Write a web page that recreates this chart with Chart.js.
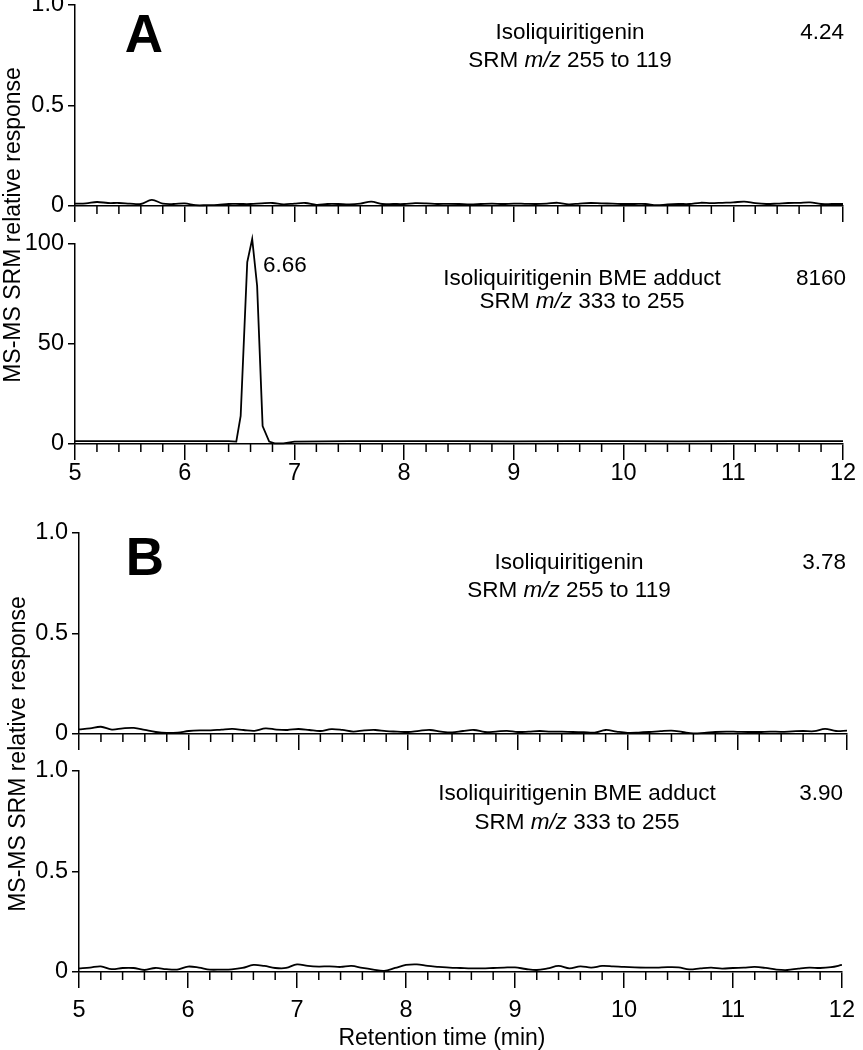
<!DOCTYPE html>
<html><head><meta charset="utf-8">
<script src="https://cdn.jsdelivr.net/npm/chart.js@4.4.1/dist/chart.umd.min.js"></script>
<style>
html,body{margin:0;padding:0;background:#fff;}
#wrap{position:relative;width:863px;height:1050px;overflow:hidden;font-family:"Liberation Sans",Arial,sans-serif;color:#000;}
canvas{position:absolute;left:0;}
.t{position:absolute;white-space:nowrap;line-height:1;font-size:22.5px;transform:translate(-50%,-50%);}
.r{position:absolute;white-space:nowrap;line-height:1;font-size:22.5px;transform:translate(-100%,-50%);}
.l{position:absolute;white-space:nowrap;line-height:1;font-size:22.5px;transform:translate(0,-50%);}
.big{position:absolute;font-weight:bold;font-size:53px;line-height:1;transform:translate(-50%,-50%);}
.yt{position:absolute;white-space:nowrap;line-height:1;font-size:23px;transform:translate(-50%,-50%) rotate(-90deg);}
.xt{position:absolute;white-space:nowrap;line-height:1;font-size:23px;transform:translate(-50%,-50%);}
</style></head><body><div id="wrap">
<canvas id="cA1"></canvas>
<canvas id="cA2"></canvas>
<canvas id="cB1"></canvas>
<canvas id="cB2"></canvas>

<div class="big" style="left:144px;top:33px;">A</div>
<div class="big" style="left:145px;top:556px;">B</div>

<div class="yt" style="left:12px;top:225px;">MS-MS SRM relative response</div>
<div class="yt" style="left:17px;top:754px;">MS-MS SRM relative response</div>

<div class="t" style="left:570px;top:32px;">Isoliquiritigenin</div>
<div class="t" style="left:570px;top:60px;">SRM <i>m/z</i> 255 to 119</div>
<div class="r" style="left:844px;top:32px;">4.24</div>

<div class="t" style="left:582px;top:278px;">Isoliquiritigenin BME adduct</div>
<div class="t" style="left:582px;top:301px;">SRM <i>m/z</i> 333 to 255</div>
<div class="r" style="left:846px;top:278px;">8160</div>
<div class="l" style="left:263px;top:265px;">6.66</div>

<div class="t" style="left:569px;top:562px;">Isoliquiritigenin</div>
<div class="t" style="left:569px;top:590px;">SRM <i>m/z</i> 255 to 119</div>
<div class="r" style="left:846px;top:562px;">3.78</div>

<div class="t" style="left:577px;top:793px;">Isoliquiritigenin BME adduct</div>
<div class="t" style="left:577px;top:822px;">SRM <i>m/z</i> 333 to 255</div>
<div class="r" style="left:843px;top:793px;">3.90</div>

<div class="xt" style="left:442px;top:1037px;">Retention time (min)</div>
</div>
<script>
// ---------- data ----------
const xTickLabels = ["5","6","7","8","9","10","11","12"];
const yTickValsUnit = [0, 0.5, 1.0];
const yTickLabelsUnit = ["0","0.5","1.0"];
const yTickValsPct = [0, 50, 100];
const yTickLabelsPct = ["0","50","100"];

const timeNoise = [5.0,5.1,5.2,5.3,5.4,5.5,5.6,5.7,5.8,5.9,6.0,6.1,6.2,6.3,6.4,6.5,6.6,6.7,6.8,6.9,
  7.0,7.1,7.2,7.3,7.4,7.5,7.6,7.7,7.8,7.9,8.0,8.1,8.2,8.3,8.4,8.5,8.6,8.7,8.8,8.9,
  9.0,9.1,9.2,9.3,9.4,9.5,9.6,9.7,9.8,9.9,10.0,10.1,10.2,10.3,10.4,10.5,10.6,10.7,10.8,10.9,
  11.0,11.1,11.2,11.3,11.4,11.5,11.6,11.7,11.8,11.9,12.0];

// A: isoliquiritigenin, SRM 255->119
const respA1 = [0.012,0.013,0.020,0.015,0.015,0.012,0.010,0.030,0.012,0.010,
  0.013,0.004,0.004,0.005,0.010,0.010,0.010,0.013,0.015,0.008,
  0.012,0.015,0.006,0.010,0.010,0.008,0.012,0.022,0.010,0.010,
  0.010,0.014,0.013,0.010,0.011,0.010,0.008,0.010,0.012,0.010,
  0.012,0.011,0.010,0.012,0.016,0.008,0.012,0.015,0.013,0.012,
  0.010,0.010,0.010,0.004,0.008,0.010,0.010,0.016,0.014,0.016,
  0.018,0.022,0.014,0.010,0.012,0.015,0.016,0.018,0.010,0.010,0.010];

// A: BME adduct, SRM 333->255 (percent)
const timeA2 = [5.0,5.5,6.0,6.4,6.47,6.51,6.57,6.615,6.66,6.71,6.77,6.82,6.9,7.0,7.5,8.0,8.5,9.0,9.5,10.0,10.5,11.0,11.5,12.0];
const respA2 = [1.4,1.4,1.4,1.4,1.2,14,91,102.5,79,9,1.2,0.3,0.3,1.2,1.4,1.4,1.4,1.3,1.4,1.4,1.3,1.4,1.4,1.4];

// B: isoliquiritigenin, SRM 255->119
const respB1 = [0.023,0.028,0.036,0.022,0.028,0.030,0.020,0.010,0.005,0.007,
  0.015,0.018,0.018,0.022,0.025,0.020,0.016,0.028,0.022,0.020,
  0.025,0.020,0.015,0.024,0.020,0.012,0.018,0.020,0.014,0.012,
  0.010,0.016,0.020,0.012,0.008,0.015,0.020,0.010,0.012,0.016,
  0.010,0.012,0.015,0.012,0.012,0.010,0.009,0.007,0.020,0.012,
  0.006,0.007,0.010,0.014,0.017,0.010,0.003,0.006,0.010,0.012,
  0.011,0.010,0.010,0.012,0.011,0.013,0.015,0.014,0.025,0.015,0.017];

// B: BME adduct, SRM 333->255
const respB2 = [0.018,0.022,0.028,0.014,0.020,0.020,0.010,0.020,0.014,0.012,
  0.027,0.022,0.012,0.012,0.013,0.020,0.035,0.030,0.020,0.020,
  0.038,0.030,0.027,0.028,0.025,0.030,0.020,0.012,0.006,0.020,
  0.035,0.038,0.030,0.026,0.022,0.020,0.018,0.018,0.020,0.022,
  0.023,0.015,0.010,0.018,0.030,0.018,0.028,0.022,0.030,0.028,
  0.025,0.023,0.022,0.022,0.024,0.023,0.013,0.018,0.022,0.017,
  0.020,0.022,0.025,0.020,0.012,0.010,0.017,0.022,0.020,0.024,0.035];

// ---------- drawing ----------
const FONT = '"Liberation Sans", Arial, sans-serif';
const TICK_FONT = 23.5;
const MINOR_STEP = 0.2;

const minorTicks = {
  id: 'minorTicks',
  afterDraw(chart) {
    const xs = chart.scales.x, ca = chart.chartArea, ctx = chart.ctx;
    ctx.save();
    ctx.strokeStyle = '#000';
    ctx.lineWidth = 1.5;
    const n = Math.round((xs.max - xs.min) / MINOR_STEP);
    for (let i = 0; i <= n; i++) {
      if (i % 5 === 0) continue;
      const px = xs.getPixelForValue(xs.min + i * MINOR_STEP);
      ctx.beginPath();
      ctx.moveTo(px, ca.bottom);
      ctx.lineTo(px, ca.bottom + 8);
      ctx.stroke();
    }
    ctx.restore();
  }
};

function pairs(xs, ys) { return xs.map((x, i) => ({x: x, y: ys[i]})); }

function makePanel(p) {
  const cv = document.getElementById(p.id);
  const axisH = p.axisH;
  const W = 863, H = 20 + (p.bottom - p.top) + axisH;
  cv.width = W; cv.height = H;
  cv.style.top = (p.top - 20) + 'px';
  cv.style.width = W + 'px'; cv.style.height = H + 'px';
  new Chart(cv, {
    type: 'line',
    data: { datasets: [{
      data: pairs(p.t, p.v),
      borderColor: '#000', borderWidth: 1.8, pointRadius: 0,
      tension: p.tension, fill: false, clip: false
    }]},
    options: {
      responsive: false, animation: false, devicePixelRatio: 1,
      layout: { padding: { top: 20, right: W - p.right, left: 0, bottom: 0 } },
      plugins: { legend: { display: false }, tooltip: { enabled: false } },
      scales: {
        x: {
          type: 'linear', min: 5, max: 12,
          afterFit(s) { s.height = axisH; },
          ticks: { stepSize: 1, display: p.xLabels, color: '#000', padding: p.labelPad,
                   font: { family: FONT, size: TICK_FONT },
                   callback: (v, i) => xTickLabels[i] },
          grid: { drawOnChartArea: false, drawTicks: true, tickLength: 16, color: '#000', lineWidth: 1.5 },
          border: { display: true, color: '#000', width: 1.5 }
        },
        y: {
          min: 0, max: p.yVals[p.yVals.length - 1],
          afterFit(s) { s.width = p.left; },
          afterBuildTicks(s) { s.ticks = p.yVals.map(v => ({value: v})); },
          ticks: { color: '#000', padding: 4, font: { family: FONT, size: TICK_FONT },
                   callback: (v, i) => p.yLabels[i] },
          grid: { drawOnChartArea: false, drawTicks: true, tickLength: 7, color: '#000', lineWidth: 1.5 },
          border: { display: true, color: '#000', width: 1.5 }
        }
      }
    },
    plugins: [minorTicks]
  });
}

makePanel({id:'cA1', left:75, right:843, top:5,   bottom:206, axisH:24, xLabels:false, labelPad:0,
  yVals: yTickValsUnit, yLabels: yTickLabelsUnit, t: timeNoise, v: respA1, tension: 0.35});
makePanel({id:'cA2', left:75, right:843, top:244, bottom:444, axisH:44, xLabels:true, labelPad:-1,
  yVals: yTickValsPct, yLabels: yTickLabelsPct, t: timeA2, v: respA2, tension: 0});
makePanel({id:'cB1', left:79, right:847, top:533, bottom:734, axisH:24, xLabels:false, labelPad:0,
  yVals: yTickValsUnit, yLabels: yTickLabelsUnit, t: timeNoise, v: respB1, tension: 0.35});
makePanel({id:'cB2', left:79, right:847, top:771, bottom:972, axisH:52, xLabels:true, labelPad:8,
  yVals: yTickValsUnit, yLabels: yTickLabelsUnit, t: timeNoise, v: respB2, tension: 0.35});
</script>
</body></html>
